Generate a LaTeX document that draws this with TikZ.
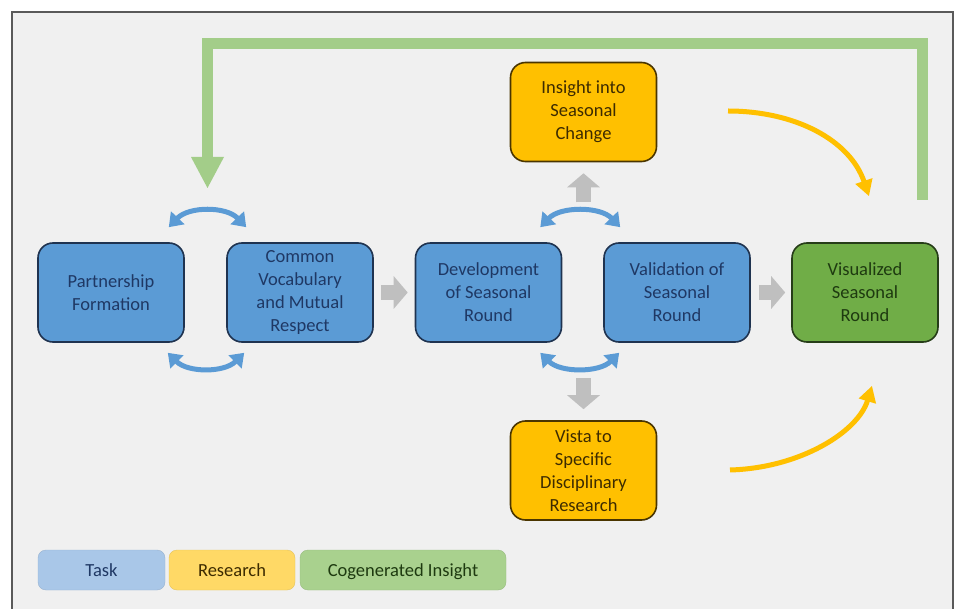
\documentclass[tikz,border=0pt]{standalone}
\usepackage{fontspec}
\setmainfont{Carlito}
\usetikzlibrary{arrows.meta,calc}
\definecolor{bgc}{HTML}{F0F0F0}
\definecolor{framec}{HTML}{5A5A5A}
\definecolor{taskfill}{HTML}{5B9BD5}
\definecolor{taskdraw}{HTML}{1F3350}
\definecolor{tasktext}{HTML}{1F3864}
\definecolor{resfill}{HTML}{FFC000}
\definecolor{resdraw}{HTML}{4A3500}
\definecolor{restext}{HTML}{3D2B00}
\definecolor{cofill}{HTML}{70AD47}
\definecolor{codraw}{HTML}{263D18}
\definecolor{cotext}{HTML}{1E3A10}
\definecolor{greyarr}{HTML}{BFBFBF}
\definecolor{greenarr}{HTML}{A3CD89}
\definecolor{legtask}{HTML}{A9C7E8}
\definecolor{legres}{HTML}{FFD966}
\definecolor{legco}{HTML}{A9D18E}
\begin{document}
\begin{tikzpicture}[x=1pt,y=-1pt,
  box/.style={rounded corners=15pt, line width=1.6pt, minimum width=146pt, minimum height=99pt, align=center, inner sep=0pt, font=\fontsize{18.5}{23}\selectfont},
  taskbox/.style={box, fill=taskfill, draw=taskdraw, text=tasktext},
  resbox/.style={box, fill=resfill, draw=resdraw, text=restext},
  cobox/.style={box, fill=cofill, draw=codraw, text=cotext},
  legbox/.style={rounded corners=8pt, minimum height=40pt, inner sep=0pt, text height=13pt, text depth=0pt, font=\fontsize{18.5}{23}\selectfont},
  greyarrow/.style={draw=greyarr, line width=15pt, -{Triangle[width=32pt,length=14pt]}},
  bluearc/.style={draw=taskfill, line width=5pt, {Triangle[width=18pt,length=13pt]}-{Triangle[width=18pt,length=13pt]}},
  orangearc/.style={draw=resfill, line width=5pt, -{Triangle[width=17pt,length=16pt]}},
]
\path[use as bounding box, clip] (0,0) rectangle (961,609);
\fill[white] (0,0) rectangle (961,609);
\draw[fill=bgc, draw=framec, line width=2pt] (12,12) rectangle (953,630);

% green feedback arrow
\coordinate (gstart) at (922.5,200);
\coordinate (gend) at (207.5,160);
\draw[draw=greenarr, line width=11pt, line join=miter] (gstart) -- (922.5,43.5) -- (207.5,43.5) -- (gend);
\fill[greenarr] (191,157) -- (224,157) -- (207.5,188) -- cycle;

% nodes
\node[taskbox] (part) at (111,292.5) {Partnership\\Formation};
\node[taskbox] (common) at (300,292.5) {Common\\Vocabulary\\and Mutual\\Respect};
\node[taskbox] (devel) at (488.5,292.5) {Development\\of Seasonal\\Round};
\node[taskbox] (valid) at (677,292.5) {Validation of\\Seasonal\\Round};
\node[cobox] (visual) at (865,292.5) {Visualized\\Seasonal\\Round};
\node[resbox] (insight) at (583.5,112) {Insight into\\Seasonal\\Change};
\node[resbox] (vista) at (583.5,470.5) {Vista to\\Specific\\Disciplinary\\Research};

% grey arrows
\draw[greyarrow, shorten <=7pt, shorten >=7pt] (common.east) -- (devel.west);
\draw[greyarrow, shorten <=8pt, shorten >=6pt] (valid.east) -- (visual.west);
\draw[greyarrow, shorten >=11pt] ($(insight.south)+(0,40)$) -- (insight.south);
\draw[greyarrow, shorten >=11pt] ($(vista.north)+(0,-42)$) -- (vista.north);

% blue double arcs
\draw[bluearc] ($(part.north east)+(-16,-15)$) .. controls +(20,-21) and +(-20,-21) .. ($(common.north west)+(20,-15)$);
\draw[bluearc] ($(part.south east)+(-17,10)$) .. controls +(20,20) and +(-20,20) .. ($(common.south west)+(18,10)$);
\draw[bluearc] ($(devel.north east)+(-22,-15)$) .. controls +(20,-21) and +(-20,-21) .. ($(valid.north west)+(17,-15)$);
\draw[bluearc] ($(devel.south east)+(-22,10)$) .. controls +(20,20) and +(-20,20) .. ($(valid.south west)+(16,10)$);

% orange arcs
\coordinate (o1s) at (728,111);
\coordinate (o2s) at (730,470);
\draw[orangearc] (o1s) .. controls (795,111) and (850,140) .. ($(visual.north)+(4,-46)$);
\draw[orangearc] (o2s) .. controls (800,468) and (858,432) .. ($(visual.south)+(7,43)$);

% legend
\node[legbox, fill=legtask, draw=legtask!90!black, minimum width=127pt, text=tasktext] (legt) at (101.5,570) {Task};
\node[legbox, fill=legres, draw=legres!90!black, minimum width=126pt, text=restext] (legr) at (232,570) {Research};
\node[legbox, fill=legco, draw=legco!90!black, minimum width=206pt, text=cotext] (legc) at (403,570) {Cogenerated Insight};
\end{tikzpicture}
\end{document}
